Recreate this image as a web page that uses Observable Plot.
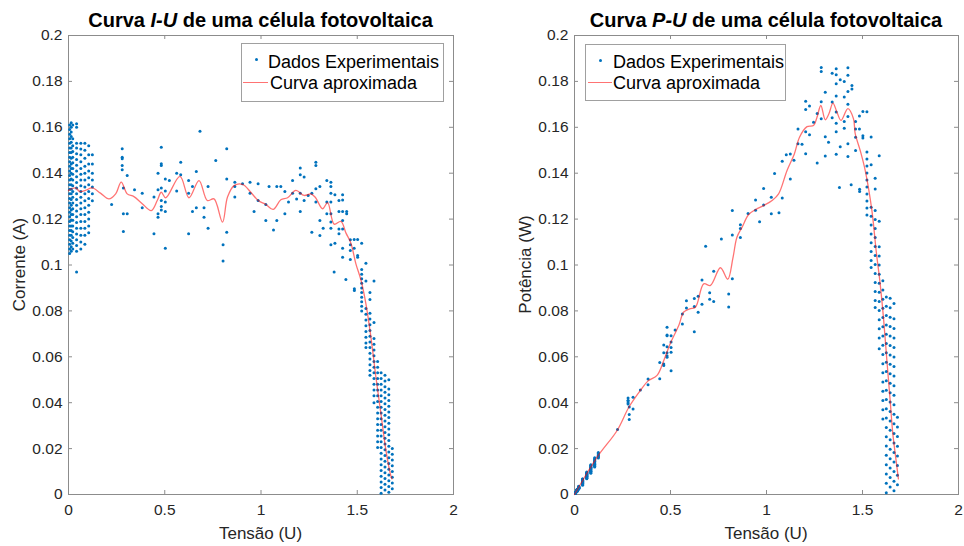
<!DOCTYPE html>
<html><head><meta charset="utf-8">
<script src="https://cdn.jsdelivr.net/npm/d3@7"></script>
<script src="https://cdn.jsdelivr.net/npm/@observablehq/plot@0.6"></script>
<style>
html,body{margin:0;padding:0;background:#fff;}
#wrap{position:relative;width:964px;height:546px;overflow:hidden;font-family:"Liberation Sans",Arial,Helvetica,sans-serif;color:#262626;}
.panel{position:absolute;top:0;}
.title{position:absolute;top:10px;font-weight:bold;font-size:20px;line-height:20px;color:#000;white-space:nowrap;text-align:center;width:440px;}
.xlabel{position:absolute;top:524.6px;font-size:17px;line-height:17px;white-space:nowrap;text-align:center;width:200px;}
.ylabel{position:absolute;font-size:17px;line-height:17px;height:17px;white-space:nowrap;text-align:center;width:200px;transform:rotate(-90deg);transform-origin:50% 50%;}
.legend{position:absolute;background:#fff;border:1px solid #a0a0a0;box-sizing:border-box;}
.legend .row{position:absolute;font-size:18px;line-height:18px;white-space:nowrap;color:#000;}
.legend .dot{position:absolute;width:3px;height:3px;border-radius:50%;background:#0072BD;}
.legend .ln{position:absolute;height:0;border-top:1.3px solid rgba(255,0,0,0.55);}
</style>
</head><body>
<div id="wrap">
  <div class="panel" id="left"></div>
  <div class="panel" id="right" style="left:482px"></div>
  <div class="title" style="left:40.5px">Curva <i>I-U</i> de uma célula fotovoltaica</div>
  <div class="title" style="left:546px">Curva <i>P-U</i> de uma célula fotovoltaica</div>
  <div class="xlabel" style="left:160.5px">Tensão (U)</div>
  <div class="xlabel" style="left:666px">Tensão (U)</div>
  <div class="ylabel" style="left:-80.9px;top:256px">Corrente (A)</div>
  <div class="ylabel" style="left:425.1px;top:256px">Potência (W)</div>
  <div class="legend" style="left:241px;top:43px;width:203px;height:59px">
    <span class="dot" style="left:12.5px;top:13.5px"></span>
    <span class="row" style="left:26px;top:9px">Dados Experimentais</span>
    <span class="ln" style="left:1px;width:25px;top:38px"></span>
    <span class="row" style="left:28px;top:30px">Curva aproximada</span>
  </div>
  <div class="legend" style="left:585px;top:44px;width:201px;height:57px">
    <span class="dot" style="left:12.5px;top:13.5px"></span>
    <span class="row" style="left:27px;top:8px">Dados Experimentais</span>
    <span class="ln" style="left:2px;width:24px;top:37px"></span>
    <span class="row" style="left:27px;top:29px">Curva aproximada</span>
  </div>
</div>
<script>
// ---- axis ticks ----
const xTicks = [0, 0.5, 1, 1.5, 2];
const xTickLabels = ["0", "0.5", "1", "1.5", "2"];
const yTicks = [0, 0.02, 0.04, 0.06, 0.08, 0.1, 0.12, 0.14, 0.16, 0.18, 0.2];
const yTickLabels = ["0", "0.02", "0.04", "0.06", "0.08", "0.1", "0.12", "0.14", "0.16", "0.18", "0.2"];

// ---- dense measurement columns: voltage U (V) and currents I (A) ----
const clusterU = [0.006, 0.014, 0.022, 0.042, 0.064, 0.085, 0.105, 0.124,
                  1.523, 1.545, 1.566, 1.587, 1.606, 1.624, 1.644, 1.664, 1.682];
const clusterI = [
  [0.161,0.159,0.157,0.155,0.153,0.151,0.149,0.147,0.145,0.143,0.141,0.139,0.137,0.135,0.133,0.131,0.129,0.127,0.125,0.123,0.121,0.119,0.117,0.115,0.113,0.111,0.109,0.107,0.105],
  [0.162,0.16,0.158,0.156,0.1535,0.151,0.149,0.1465,0.144,0.142,0.14,0.1375,0.135,0.133,0.131,0.1285,0.126,0.124,0.122,0.1195,0.117,0.115,0.113,0.1105,0.108,0.106],
  [0.161,0.155,0.152,0.1495,0.147,0.1445,0.142,0.1395,0.137,0.1345,0.132,0.1295,0.127,0.1245,0.122,0.1195,0.117,0.1145,0.112,0.1095,0.107],
  [0.1615,0.16,0.153,0.151,0.1485,0.146,0.1435,0.141,0.1385,0.136,0.1335,0.131,0.1285,0.126,0.1235,0.121,0.1185,0.116,0.1135,0.111,0.1085,0.106,0.097],
  [0.153,0.1505,0.148,0.145,0.142,0.1395,0.137,0.1345,0.132,0.1295,0.127,0.1245,0.122,0.119,0.116,0.113,0.11,0.107],
  [0.153,0.15,0.1465,0.143,0.14,0.137,0.134,0.131,0.128,0.125,0.122,0.119,0.116,0.113,0.109],
  [0.152,0.148,0.144,0.141,0.138,0.135,0.132,0.129,0.126,0.123,0.12,0.117,0.114],
  [0.148,0.144,0.14,0.137,0.134,0.131,0.128],
  [0.098,0.096,0.094,0.092,0.09,0.088,0.086,0.084,0.082,0.08],
  [0.093,0.081,0.0785,0.076,0.0735,0.071,0.0685,0.066,0.064],
  [0.088,0.085,0.079,0.0765,0.074,0.0715,0.069,0.0665,0.064,0.0615,0.059,0.0565,0.054,0.052],
  [0.093,0.075,0.068,0.0655,0.063,0.0605,0.058,0.0555,0.053,0.0505,0.048,0.0455,0.043,0.04],
  [0.058,0.0555,0.053,0.0505,0.048,0.0455,0.043,0.0405,0.038,0.0355,0.033,0.0305,0.028,0.0255,0.023,0.0205],
  [0.053,0.0505,0.048,0.0455,0.043,0.0405,0.038,0.0355,0.033,0.0305,0.028,0.0255,0.023,0.0205,0.018,0.0155,0.013,0.0105,0.008,0.0055,0.003,0.0005],
  [0.052,0.0495,0.047,0.0445,0.042,0.0395,0.037,0.0345,0.032,0.0295,0.027,0.0245,0.022,0.0195,0.017,0.0145,0.012,0.0095,0.007,0.0045,0.002],
  [0.05,0.046,0.0435,0.041,0.0385,0.036,0.0335,0.031,0.0285,0.026,0.0235,0.021,0.0185,0.016,0.0135,0.011,0.0085,0.006,0.0035,0.001],
  [0.02,0.0175,0.015,0.0125,0.01,0.0075,0.005,0.0025]
];

// ---- scattered measurements [U, I] ----
const scatterUI = [
  [0.224,0.1264],[0.279,0.1506],[0.279,0.147],[0.279,0.1463],[0.279,0.1434],[0.279,0.1415],[0.305,0.139],[0.285,0.1336],
  [0.285,0.1223],[0.305,0.1223],[0.285,0.1146],[0.343,0.1328],[0.383,0.1313],[0.383,0.1249],[0.444,0.1296],[0.444,0.1136],
  [0.465,0.14],[0.465,0.1328],[0.465,0.1223],[0.465,0.1208],[0.482,0.1513],[0.482,0.1441],[0.482,0.1434],[0.482,0.1336],
  [0.482,0.1281],[0.482,0.1255],[0.482,0.124],[0.503,0.1375],[0.503,0.1322],[0.503,0.1274],[0.503,0.1233],[0.503,0.1073],
  [0.524,0.1368],[0.562,0.14],[0.562,0.1322],[0.583,0.1448],[0.583,0.1393],[0.624,0.1368],[0.624,0.1313],[0.624,0.1136],
  [0.644,0.1342],[0.644,0.1233],[0.664,0.1407],[0.664,0.1249],[0.683,0.1583],[0.704,0.1249],[0.704,0.1208],[0.725,0.1342],
  [0.725,0.116],[0.765,0.1455],[0.803,0.1088],[0.803,0.1017],[0.822,0.1506],[0.822,0.1375],[0.822,0.1143],[0.864,0.1361],
  [0.864,0.1342],[0.864,0.1296],[0.904,0.1354],[0.943,0.1361],[0.943,0.1313],[0.964,0.1233],[0.985,0.1354],[0.985,0.1281],
  [1.025,0.1264],[1.025,0.1194],[1.042,0.1342],[1.065,0.1153],[1.082,0.1342],[1.082,0.1194],[1.103,0.1342],[1.124,0.132],
  [1.124,0.1223],[1.143,0.1274],[1.164,0.1368],[1.164,0.1313],[1.185,0.1288],[1.204,0.1423],[1.204,0.1393],[1.204,0.1313],
  [1.204,0.1233],[1.224,0.1383],[1.224,0.1281],[1.245,0.1303],[1.264,0.1313],[1.264,0.1143],[1.285,0.1448],[1.285,0.1434],
  [1.285,0.1332],[1.285,0.1274],[1.306,0.1342],[1.306,0.1194],[1.306,0.1129],[1.323,0.116],[1.342,0.1368],[1.342,0.1274],
  [1.342,0.1223],[1.363,0.1361],[1.363,0.1342],[1.363,0.1313],[1.363,0.1274],[1.363,0.1223],[1.363,0.1187],[1.363,0.116],
  [1.363,0.1088],[1.384,0.1306],[1.384,0.1095],[1.405,0.1281],[1.405,0.1233],[1.405,0.1157],[1.405,0.1136],[1.424,0.1306],
  [1.424,0.1283],[1.424,0.1233],[1.424,0.1194],[1.424,0.1157],[1.424,0.1073],[1.424,0.1034],[1.445,0.1233],[1.445,0.1223],
  [1.464,0.111],[1.464,0.1088],[1.464,0.1063],[1.464,0.1024],[1.484,0.1111],[1.484,0.1073],[1.502,0.1111],[1.502,0.1041],
  [1.502,0.1034],[1.38,0.0969],[1.441,0.0937],[1.485,0.0896],[1.485,0.0889],[1.523,0.1095],[1.545,0.1008]
];

// ---- fitted curves ("Curva aproximada") ----
const fitIU = [0,0.036,0.059,0.088,0.123,0.166,0.21,0.245,0.274,0.305,0.34,0.383,0.43,0.461,0.482,0.505,0.579,0.626,0.678,0.721,0.756,0.8,0.826,0.86,0.904,0.947,0.985,1.025,1.063,1.103,1.138,1.181,1.224,1.259,1.282,1.32,1.346,1.38,1.415,1.441,1.467,1.493,1.519,1.545,1.571,1.597,1.623,1.649,1.672,1.68];
const fitI  = [0.1325,0.1336,0.132,0.1325,0.1336,0.1313,0.1288,0.131,0.1361,0.131,0.1298,0.1267,0.1237,0.1281,0.1317,0.1293,0.1386,0.1293,0.1368,0.1281,0.1288,0.1187,0.1296,0.1346,0.1351,0.1317,0.1281,0.1264,0.1242,0.1284,0.1293,0.1325,0.1303,0.131,0.1295,0.1245,0.1272,0.1178,0.119,0.114,0.1095,0.1005,0.0935,0.0831,0.0686,0.0511,0.0352,0.0192,0.009,0.0068];
const fitPU = [0,0.118,0.222,0.283,0.343,0.382,0.43,0.465,0.5,0.543,0.569,0.6,0.63,0.673,0.708,0.76,0.798,0.825,0.846,0.873,0.907,0.942,0.985,1.029,1.063,1.107,1.145,1.172,1.211,1.245,1.263,1.283,1.306,1.325,1.346,1.367,1.388,1.424,1.453,1.462,1.488,1.514,1.549,1.571,1.592,1.609,1.627,1.644,1.658,1.675,1.687];
const fitP  = [0,0.0163,0.0279,0.038,0.0453,0.0494,0.0519,0.0584,0.066,0.0736,0.0795,0.0809,0.0816,0.0918,0.0911,0.0988,0.0938,0.103,0.1121,0.1165,0.122,0.1241,0.1259,0.1281,0.131,0.1412,0.1484,0.1557,0.1603,0.1608,0.1644,0.1695,0.1633,0.1659,0.1705,0.1666,0.163,0.1681,0.1637,0.1572,0.1499,0.1412,0.1237,0.1063,0.0918,0.0773,0.0584,0.041,0.0264,0.0148,0.0068];

// ---- build tables ----
const points = [];
clusterU.forEach((u, k) => clusterI[k].forEach(i => points.push({u, i, p: u * i})));
scatterUI.forEach(([u, i]) => points.push({u, i, p: u * i}));
const fitIData = fitIU.map((u, k) => ({u, v: fitI[k]}));
const fitPData = fitPU.map((u, k) => ({u, v: fitP[k]}));

const xLab = new Map(xTicks.map((t, k) => [t, xTickLabels[k]]));
const yLab = new Map(yTicks.map((t, k) => [t, yTickLabels[k]]));

const BLUE = "#0072BD", AXC = "#8c8c8c", TXT = "#262626";

function panel(yField, fitData, marginLeft, marginRight) {
  const W = 482, H = 546, mt = 35, mb = 52;
  const innerW = W - marginLeft - marginRight, innerH = H - mt - mb;
  const tl = 4;
  return Plot.plot({
    width: W, height: H,
    marginLeft, marginRight, marginTop: mt, marginBottom: mb,
    style: {fontFamily: '"Liberation Sans", Arial, Helvetica, sans-serif', fontSize: "15.5px", color: TXT, background: "transparent", overflow: "visible"},
    x: {domain: [0, 2], label: null},
    y: {domain: [0, 0.2], label: null},
    marks: [
      Plot.frame({stroke: AXC}),
      Plot.tickX(xTicks, {x: d => d, insetTop: innerH - tl, stroke: AXC}),
      Plot.tickX(xTicks, {x: d => d, insetBottom: innerH - tl, stroke: AXC}),
      Plot.tickY(yTicks, {y: d => d, insetRight: innerW - tl, stroke: AXC}),
      Plot.tickY(yTicks, {y: d => d, insetLeft: innerW - tl, stroke: AXC}),
      Plot.axisX(xTicks, {anchor: "bottom", tickSize: 0, tickPadding: 9, tickFormat: d => xLab.get(d), label: null}),
      Plot.axisY(yTicks, {anchor: "left", tickSize: 0, tickPadding: 6, tickFormat: d => yLab.get(d), label: null}),
      Plot.dot(points, {x: "u", y: yField, r: 1.5, fill: BLUE, stroke: null}),
      Plot.line(fitData, {x: "u", y: "v", stroke: "#ff0000", strokeOpacity: 0.55, strokeWidth: 1.3, curve: "catmull-rom"})
    ]
  });
}

document.getElementById("left").appendChild(panel("i", fitIData, 68, 29));
document.getElementById("right").appendChild(panel("p", fitPData, 92, 6));
</script>
</body></html>
